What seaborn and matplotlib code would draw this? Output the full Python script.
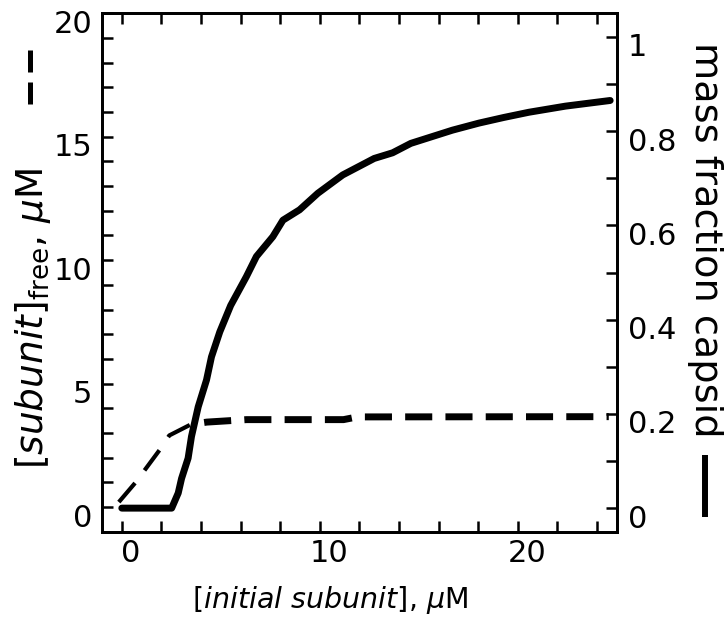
import numpy as np
import matplotlib
matplotlib.use("Agg")
import matplotlib.pyplot as plt
import matplotlib.transforms as mtransforms
from matplotlib.lines import Line2D
import seaborn as sns

# mass fraction capsid (right axis, solid)
x_capsid = [0, 2.52, 2.85, 3.02, 3.35, 3.52, 3.86, 4.28, 4.53, 4.95, 5.5, 6.29, 6.80,
            7.63, 8.14, 8.98, 9.90, 11.16, 12.75, 13.68, 14.60, 16.70, 18.04, 19.30,
            20.56, 22.41, 24.67]
capsid_fraction = [0, 0, 0.032, 0.063, 0.106, 0.152, 0.215, 0.272, 0.321, 0.374, 0.43,
                   0.491, 0.534, 0.576, 0.611, 0.633, 0.668, 0.707, 0.742, 0.754, 0.774,
                   0.802, 0.817, 0.829, 0.840, 0.853, 0.865]

# free subunit concentration (left axis, dashed)
x_free = [-0.15, 0.7, 1.9, 2.4, 3.5, 4.3, 6.3, 11.2, 11.9, 24.6]
free_subunit = [0.2, 1.0, 2.3, 2.9, 3.35, 3.44, 3.54, 3.54, 3.65, 3.66]

x_ticks = np.arange(0, 25, 2)
left_ticks = np.arange(0, 21, 1)
right_ticks = np.round(np.arange(0, 1.01, 0.1), 1)

sns.set_theme(style="ticks")
plt.rcParams["font.family"] = ["DejaVu Sans"]
plt.rcParams["mathtext.fontset"] = "dejavusans"
for key in ["text.color", "axes.labelcolor", "xtick.color", "ytick.color"]:
    plt.rcParams[key] = "black"

W, H, DPI = 724, 620, 100
fig = plt.figure(figsize=(W / DPI, H / DPI), dpi=DPI)
ax = fig.add_axes([102 / W, 1 - 531.7 / H, 514.7 / W, 518.4 / H])
ax2 = ax.twinx()

# dashed curve: steep part thinner, plateau thicker
xf = np.array(x_free)
yf = np.array(free_subunit)
rise = xf <= 3.5
sns.lineplot(x=xf[rise], y=yf[rise], ax=ax, color="black", lw=3,
             linestyle=(0, (6, 3.8)), estimator=None, sort=False)
sns.lineplot(x=xf[xf >= 3.5], y=yf[xf >= 3.5], ax=ax, color="black", lw=5,
             linestyle=(3.9, (3.9, 1.9)), estimator=None, sort=False)

sns.lineplot(x=x_capsid, y=capsid_fraction, ax=ax2, color="black", lw=5,
             estimator=None, sort=False)

ax.set_xlim(-1, 25)
ax.set_ylim(-1, 20)
ax2.set_ylim(-0.05, 1.05)

ax.set_xticks(x_ticks)
ax.set_xticklabels([str(v) if v % 10 == 0 else "" for v in x_ticks])
ax.set_yticks(left_ticks)
ax.set_yticklabels([str(v) if v % 5 == 0 else "" for v in left_ticks])
ax2.set_yticks(right_ticks)
ax2.set_yticklabels(["0", "", "0.2", "", "0.4", "", "0.6", "", "0.8", "", "1"])

tick_kw = dict(direction="in", length=7.7, width=1.8, color="black",
               labelcolor="black", labelsize=22)
ax.tick_params(axis="x", top=True, bottom=True, pad=5, **tick_kw)
ax.tick_params(axis="y", left=True, right=False, pad=7, **tick_kw)
ax2.tick_params(axis="y", right=True, left=False, pad=8, **tick_kw)

for a in (ax, ax2):
    for sp in a.spines.values():
        sp.set_visible(True)
        sp.set_linewidth(2)
        sp.set_color("black")

ax.set_xlabel(r"[$\mathit{initial\ subunit}$], $\mu$M", fontsize=20.5)
ax.xaxis.set_label_coords(0.443, -0.1)
ax.set_ylabel(r"$[\mathit{subunit}]_{\mathrm{free}}$, $\mu$M", fontsize=27)
ax.yaxis.label.set(ha="center", va="center")
ax.yaxis.set_label_coords((33 - 102) / 514.7, (531.7 - 318) / 518.4)
ax2.set_ylabel("mass fraction capsid", fontsize=27.5, rotation=270)
ax2.yaxis.label.set(ha="center", va="center")
ax2.yaxis.set_label_coords((705 - 102) / 514.7, (531.7 - 240) / 518.4)

# small offsets of the tick labels as in the original
shift_x = mtransforms.ScaledTranslation(9 / DPI, 0, fig.dpi_scale_trans)
shift_down = mtransforms.ScaledTranslation(0, -8 / DPI, fig.dpi_scale_trans)
for t in ax.xaxis.get_major_ticks():
    t.label1.set_transform(t.label1.get_transform() + shift_x)
for t in ax.yaxis.get_major_ticks():
    t.label1.set_transform(t.label1.get_transform() + shift_down)
for t in ax2.yaxis.get_major_ticks():
    t.label2.set_transform(t.label2.get_transform() + shift_down)

# line keys next to the axis titles
fig.add_artist(Line2D([30 / W, 30 / W], [1 - 50 / H, 1 - 104 / H], color="black",
                      lw=3.6, linestyle=(0, (4.4, 2.0)), transform=fig.transFigure))
fig.add_artist(Line2D([704.5 / W, 704.5 / W], [1 - 455 / H, 1 - 517 / H], color="black",
                      lw=4.3, solid_capstyle="butt", transform=fig.transFigure))

fig.savefig("out.png", dpi=DPI)
